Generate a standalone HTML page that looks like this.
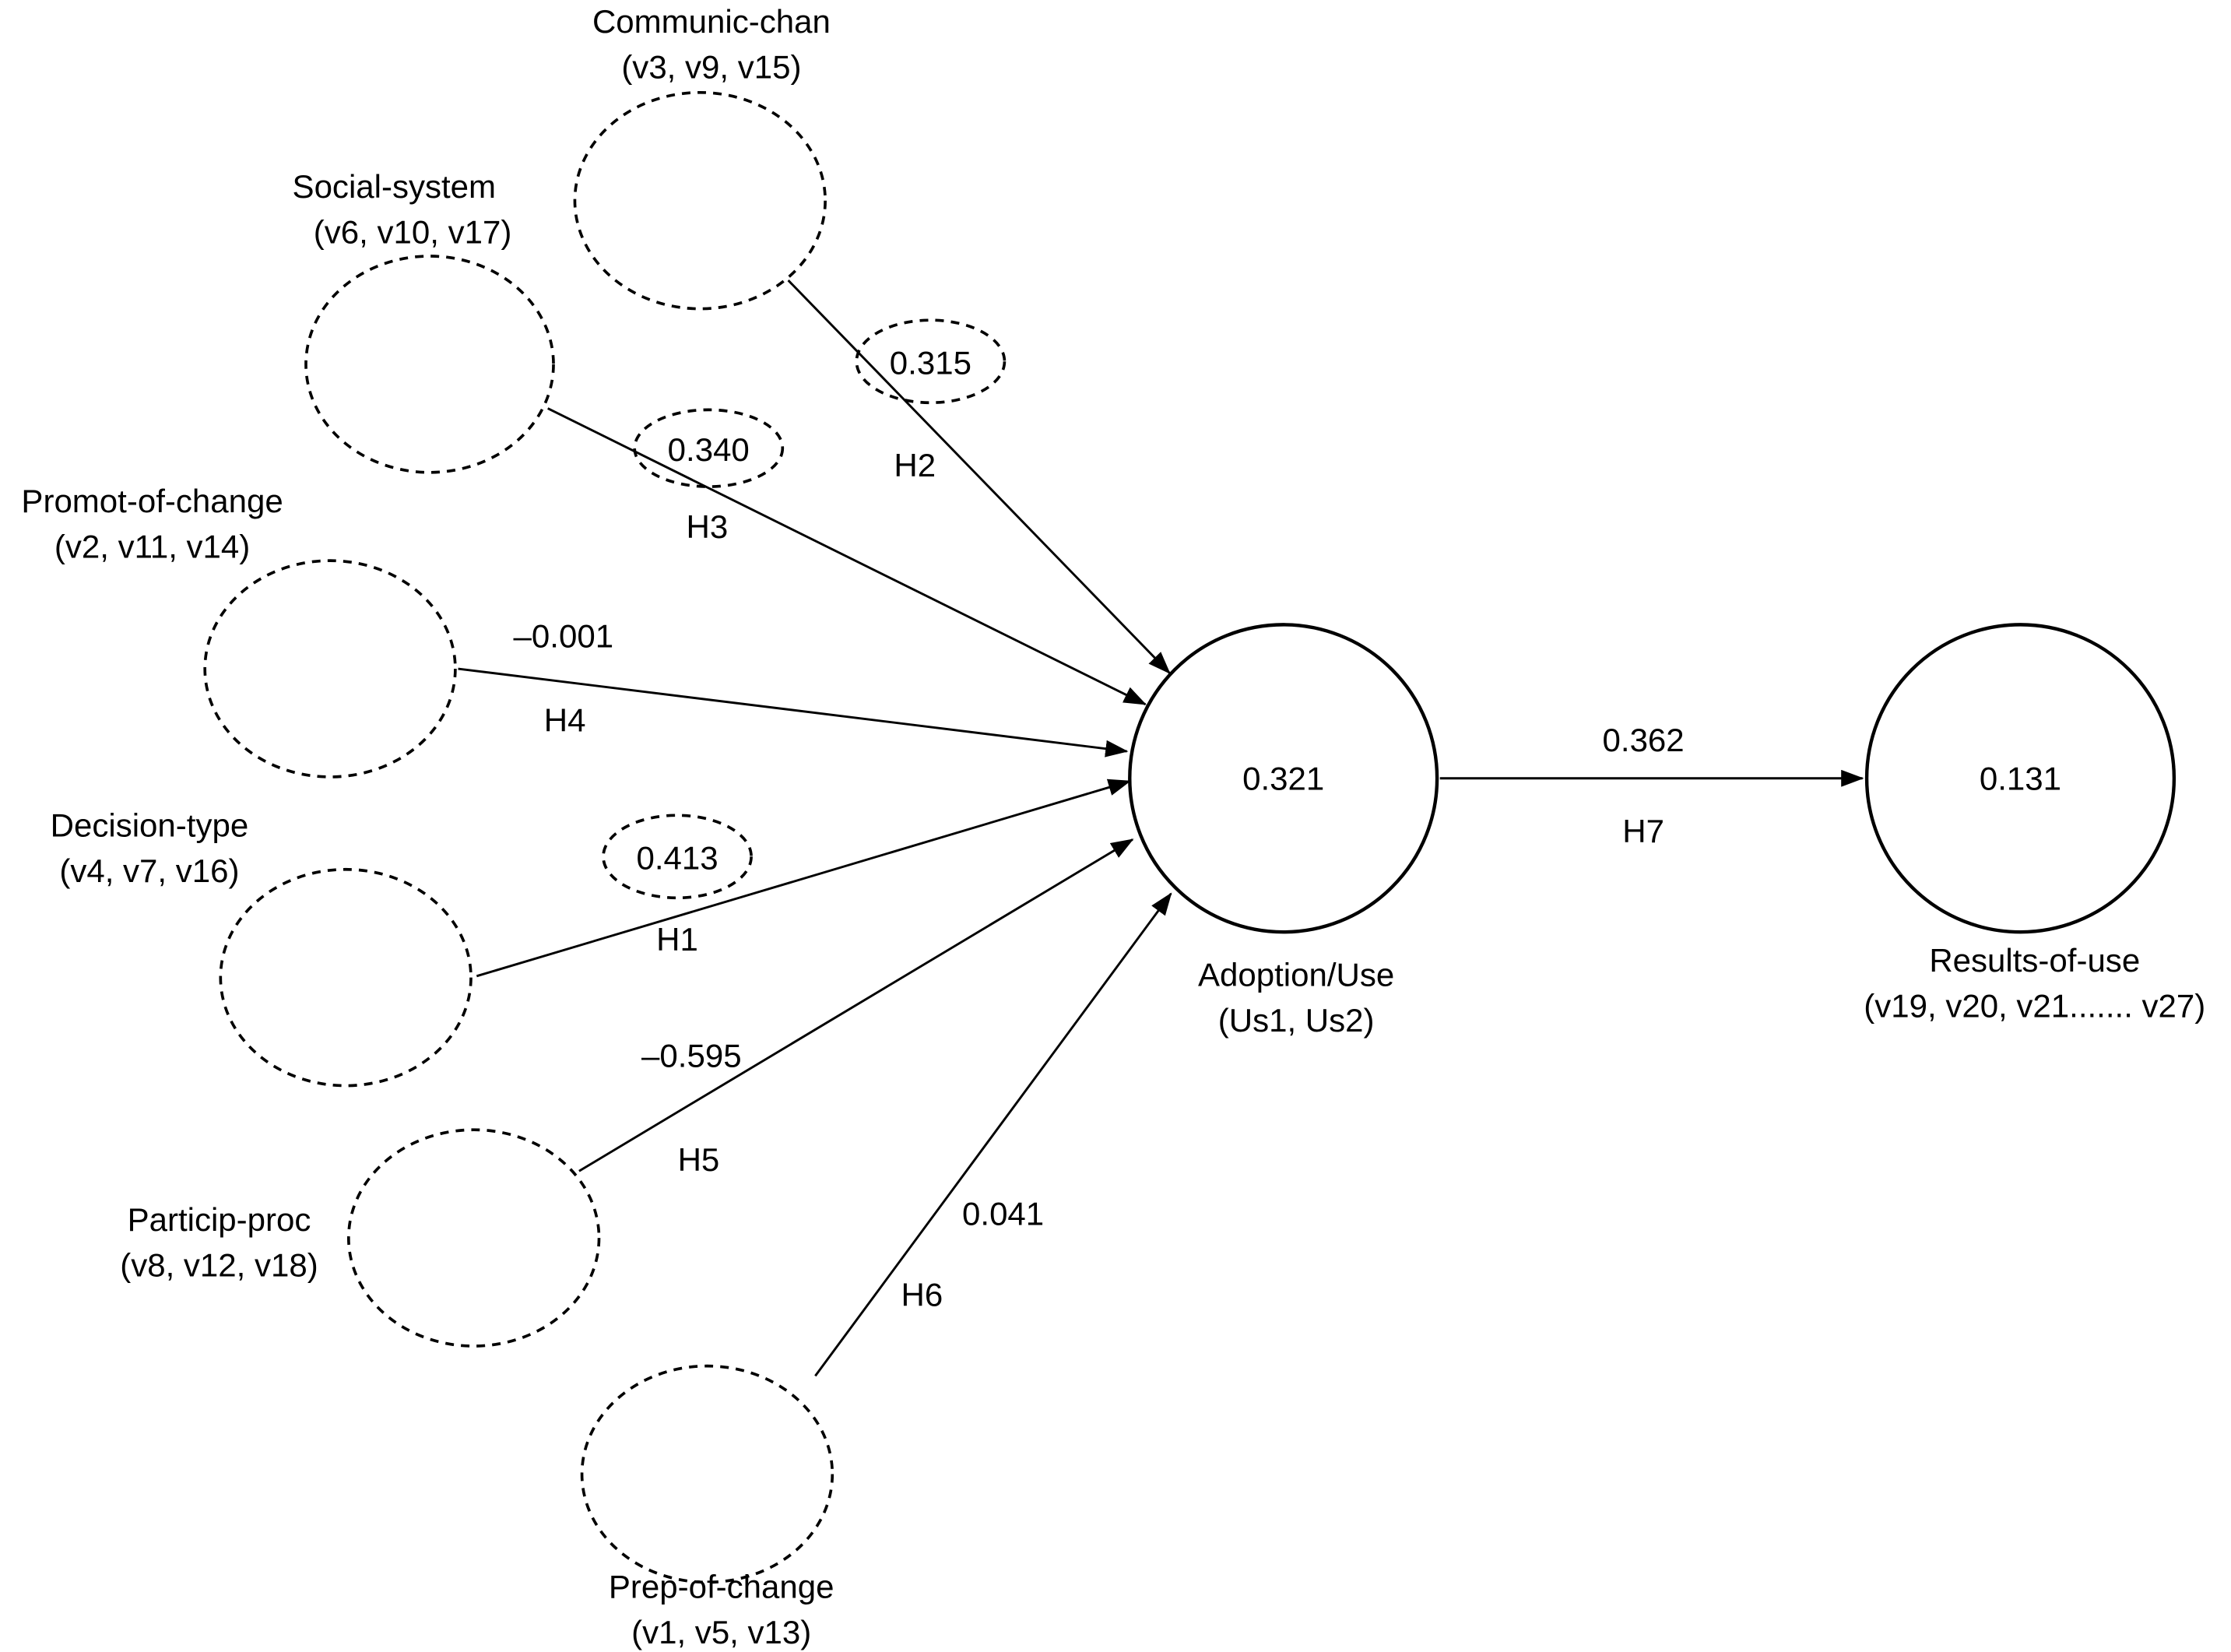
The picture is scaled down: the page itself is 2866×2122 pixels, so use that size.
<!DOCTYPE html>
<html><head><meta charset="utf-8"><style>
html,body{margin:0;padding:0;background:#fff;}
svg{display:block;}
text{font-family:"Liberation Sans",Arial,sans-serif;font-size:23px;fill:#000;text-anchor:middle;dominant-baseline:central;}
.d{fill:none;stroke:#000;stroke-width:2;stroke-dasharray:6 5;}
.s{fill:none;stroke:#000;stroke-width:2.4;}
.l{stroke:#000;stroke-width:1.6;marker-end:url(#a);}
</style></head><body>
<svg width="2866" height="2122" viewBox="0 0 1568 1161" preserveAspectRatio="none">
<defs><marker id="a" markerWidth="16" markerHeight="12" refX="15" refY="6" orient="auto" markerUnits="userSpaceOnUse"><path d="M0,0 L16,6 L0,12 z" fill="#000"/></marker></defs>
<ellipse class="d" cx="492" cy="141" rx="88" ry="76"/>
<ellipse class="d" cx="302" cy="256" rx="87" ry="76"/>
<ellipse class="d" cx="232" cy="470" rx="88" ry="76"/>
<ellipse class="d" cx="243" cy="687" rx="88" ry="76"/>
<ellipse class="d" cx="333" cy="870" rx="88" ry="76"/>
<ellipse class="d" cx="497" cy="1036" rx="88" ry="76"/>
<circle class="s" cx="902" cy="547" r="108"/>
<circle class="s" cx="1420" cy="547" r="108"/>
<ellipse class="d" cx="654" cy="254" rx="52" ry="29"/>
<ellipse class="d" cx="498" cy="315" rx="52" ry="27"/>
<ellipse class="d" cx="476" cy="602" rx="52" ry="29"/>
<line class="l" x1="554" y1="197" x2="822" y2="473"/>
<line class="l" x1="385" y1="287" x2="805" y2="495"/>
<line class="l" x1="322" y1="470" x2="792" y2="528"/>
<line class="l" x1="335" y1="686" x2="794" y2="549"/>
<line class="l" x1="407" y1="823" x2="796" y2="590"/>
<line class="l" x1="573" y1="967" x2="823" y2="628"/>
<line class="l" x1="1012" y1="547" x2="1309" y2="547"/>
<text x="500" y="15">Communic-chan</text><text x="500" y="47">(v3, v9, v15)</text>
<text x="277" y="131">Social-system</text><text x="290" y="163">(v6, v10, v17)</text>
<text x="107" y="352">Promot-of-change</text><text x="107" y="384">(v2, v11, v14)</text>
<text x="105" y="580">Decision-type</text><text x="105" y="612">(v4, v7, v16)</text>
<text x="154" y="857">Particip-proc</text><text x="154" y="889">(v8, v12, v18)</text>
<text x="507" y="1115">Prep-of-change</text><text x="507" y="1147">(v1, v5, v13)</text>
<text x="902" y="547">0.321</text>
<text x="911" y="685">Adoption/Use</text><text x="911" y="717">(Us1, Us2)</text>
<text x="1420" y="547">0.131</text>
<text x="1430" y="675">Results-of-use</text><text x="1430" y="707">(v19, v20, v21....... v27)</text>
<text x="654" y="255">0.315</text><text x="643" y="327">H2</text>
<text x="498" y="316">0.340</text><text x="497" y="370">H3</text>
<text x="396" y="447">–0.001</text><text x="397" y="506">H4</text>
<text x="476" y="603">0.413</text><text x="476" y="660">H1</text>
<text x="486" y="742">–0.595</text><text x="491" y="815">H5</text>
<text x="705" y="853">0.041</text><text x="648" y="910">H6</text>
<text x="1155" y="520">0.362</text><text x="1155" y="584">H7</text>
</svg>
</body></html>
